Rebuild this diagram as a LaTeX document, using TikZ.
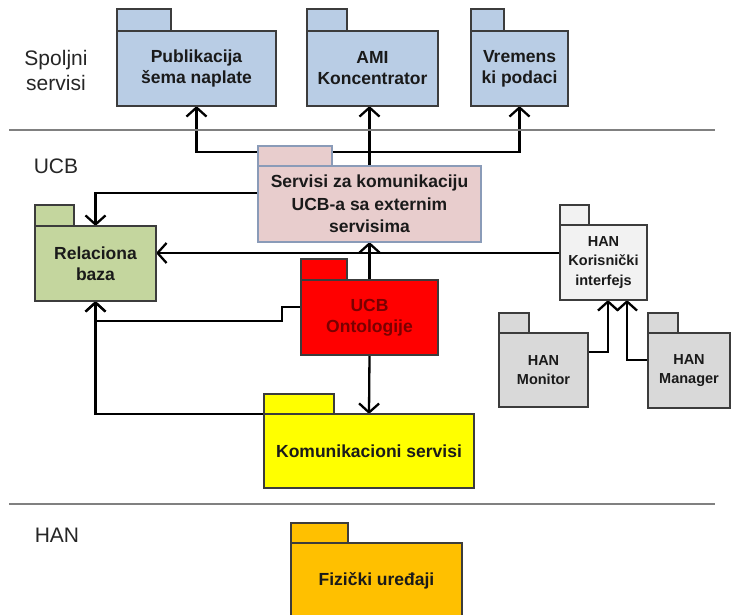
\documentclass[tikz,border=0pt]{standalone}
\usepackage{fontspec}
\setmainfont{Liberation Sans}
\usetikzlibrary{arrows.meta,calc}
\pgfdeclarelayer{back}
\pgfdeclarelayer{bg}
\pgfsetlayers{back,bg,main}
\definecolor{blu}{HTML}{B9CDE5}
\definecolor{pinkc}{HTML}{E8CDCD}
\definecolor{grn}{HTML}{C4D69E}
\definecolor{redc}{HTML}{FF0000}
\definecolor{korc}{HTML}{F2F2F2}
\definecolor{hang}{HTML}{D9D9D9}
\definecolor{yel}{HTML}{FFFF00}
\definecolor{org}{HTML}{FFC000}
\definecolor{boxline}{HTML}{3C3C3C}
\definecolor{pinkline}{HTML}{8A9BB8}
\definecolor{txt}{HTML}{1A1A1A}
\definecolor{ontxt}{HTML}{7A0000}
\definecolor{sepgray}{HTML}{808080}
\definecolor{lbltxt}{HTML}{262626}
\tikzset{
  pkg/.style={draw=boxline, line width=1.2pt, anchor=north west, inner sep=0pt,
    outer sep=0pt, align=center, text=txt,
    font=\bfseries\fontsize{17.5}{21}\selectfont},
  smallpkg/.style={pkg, font=\bfseries\fontsize{14.5}{19.5}\selectfont},
  tabst/.style={draw=boxline, line width=1.2pt},
  conn/.style={line width=2.3pt, draw=black, -{Straight Barb[length=9pt,width=20pt,line width=2.3pt]}},
  sepline/.style={draw=sepgray, line width=2.4pt},
  lbl/.style={font=\fontsize{21}{25}\selectfont, align=center, text=lbltxt}
}
\newcommand\pkgtab[5]{\draw[tabst, draw=#5, fill=#4] (#1.north west) rectangle ++(#2,-#3);}
\begin{document}
\begin{tikzpicture}[x=1pt,y=-1pt]
\clip (0,0) rectangle (731,615);
\begin{pgfonlayer}{back}
\fill[white] (0,0) rectangle (731,615);
\end{pgfonlayer}

% section labels and separators
\node[lbl] (lsp) at (56,70) {Spoljni\\servisi};
\node[lbl] (lucb) at (56,166) {UCB};
\node[lbl] (lhan) at (57,535) {HAN};
\coordinate (s1a) at (9,130);
\coordinate (s1b) at (715,130);
\coordinate (s2a) at (9,504);
\coordinate (s2b) at (715,504);
\draw[sepline] (s1a) -- (s1b);
\draw[sepline] (s2a) -- (s2b);

% packages
\node[pkg, fill=blu, minimum width=159pt, minimum height=75pt] (pub) at (117,31) {Publikacija\\šema naplate};
\pkgtab{pub}{54}{22}{blu}{boxline}
\node[pkg, fill=blu, minimum width=131pt, minimum height=75pt] (ami) at (307,31) {AMI\\Koncentrator};
\pkgtab{ami}{40}{22}{blu}{boxline}
\node[pkg, fill=blu, minimum width=97pt, minimum height=75pt] (vrem) at (471,31) {Vremens\\ki podaci};
\pkgtab{vrem}{33}{22}{blu}{boxline}

\node[pkg, draw=pinkline, fill=pinkc, minimum width=223pt, minimum height=76pt,
  font=\bfseries\fontsize{17.5}{22.5}\selectfont] (serv) at (258,166) {Servisi za komunikaciju\\UCB-a sa externim\\servisima};
\pkgtab{serv}{74}{20}{pinkc}{pinkline}

\node[pkg, fill=grn, minimum width=121pt, minimum height=75pt] (rel) at (35,226) {Relaciona\\baza};
\pkgtab{rel}{39}{21}{grn}{boxline}

\node[pkg, fill=redc, text=ontxt, minimum width=137pt, minimum height=75pt] (ont) at (301,280) {UCB\\Ontologije};
\pkgtab{ont}{46}{21}{redc}{boxline}

\node[smallpkg, fill=korc, minimum width=87pt, minimum height=75pt] (kor) at (560,225) {HAN\\Korisnički\\interfejs};
\pkgtab{kor}{29}{20}{korc}{boxline}

\node[smallpkg, fill=hang, minimum width=89pt, minimum height=74pt] (mon) at (499,333) {HAN\\Monitor};
\pkgtab{mon}{30}{20}{hang}{boxline}
\node[smallpkg, fill=hang, minimum width=82pt, minimum height=75pt] (man) at (648,333) {HAN\\Manager};
\pkgtab{man}{30}{20}{hang}{boxline}

\node[pkg, fill=yel, minimum width=210pt, minimum height=74pt] (kom) at (264,414) {Komunikacioni servisi};
\pkgtab{kom}{70}{20}{yel}{boxline}

\node[pkg, fill=org, minimum width=171pt, minimum height=75pt] (fiz) at (291,543) {Fizički uređaji};
\pkgtab{fiz}{57}{20}{org}{boxline}

% connectors
\coordinate (br) at (0,152);
\coordinate (y193) at (0,193);
\coordinate (y253) at (0,253);
\coordinate (ontout) at (0,307);
\coordinate (stepx) at (282,0);
\coordinate (y321) at (0,321);
\coordinate (monx) at (608,0);
\coordinate (monyy) at (0,352);
\coordinate (manx) at (627,0);
\coordinate (manyy) at (0,360);
\begin{pgfonlayer}{bg}
\draw[conn] (serv.north) -- (serv.north |- ami.south);
\draw[conn] (serv.north) |- (pub.south |- br) -- (pub.south);
\draw[conn] (serv.north) |- (vrem.south |- br) -- (vrem.south);
\draw[conn] (serv.west |- y193) -| (rel.north);
\draw[conn] (kor.west |- y253) -- (rel.east |- y253);
\draw[conn] (ont.north) -- (serv.south);
\draw[conn] (ont.west |- ontout) -- (stepx |- ontout) -- (stepx |- y321) -- (rel.south |- y321) -- (rel.south);
\draw[conn] (kom.north west) -| (rel.south);
\draw[conn] (ont.south) -- (kom.north);
\draw[conn] (mon.east |- monyy) -- (monx |- monyy) -- (monx |- kor.south);
\draw[conn] (man.west |- manyy) -- (manx |- manyy) -- (manx |- kor.south);
\end{pgfonlayer}
\end{tikzpicture}
\end{document}
